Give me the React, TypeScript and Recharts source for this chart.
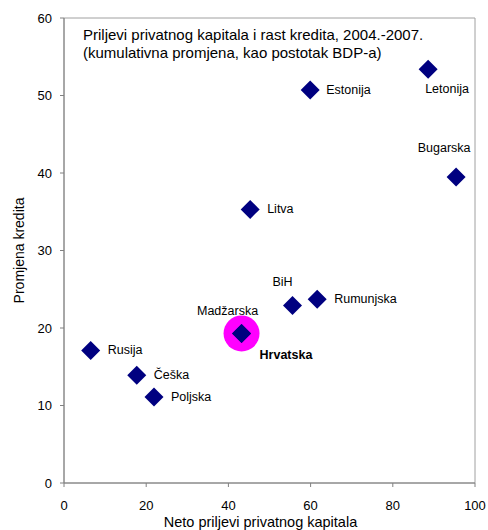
import React from 'react';
import { ScatterChart, Scatter, XAxis, YAxis, ReferenceArea } from 'recharts';

const countries = ['Estonija', 'Letonija', 'Bugarska', 'Litva', 'BiH', 'Rumunjska', 'Madžarska', 'Hrvatska', 'Rusija', 'Češka', 'Poljska'];
const capitalInflow = [59.9, 88.6, 95.4, 45.3, 55.6, 61.6, 43.2, 43.2, 6.5, 17.7, 21.9];
const creditChange = [50.7, 53.4, 39.5, 35.3, 22.9, 23.7, 19.3, 19.3, 17.1, 13.9, 11.1];
const highlighted = ['Hrvatska'];
const xTicks = [0, 20, 40, 60, 80, 100];
const yTicks = [0, 10, 20, 30, 40, 50, 60];

const FONT = '"Liberation Sans", Arial, sans-serif';
const NAVY = '#000080';

// where each country's label sits relative to its marker
const labelPlacement: Record<string, { dx: number; dy: number; anchor: 'start' | 'middle'; bold?: boolean }> = {
  Estonija: { dx: 16, dy: 0, anchor: 'start' },
  Letonija: { dx: -3, dy: 20, anchor: 'start' },
  Bugarska: { dx: -12, dy: -29, anchor: 'middle' },
  Litva: { dx: 17, dy: 0, anchor: 'start' },
  BiH: { dx: -10, dy: -24, anchor: 'middle' },
  Rumunjska: { dx: 17, dy: 0, anchor: 'start' },
  Madžarska: { dx: -14, dy: -22, anchor: 'middle' },
  Hrvatska: { dx: 18, dy: 22, anchor: 'start', bold: true },
  Rusija: { dx: 17, dy: 0, anchor: 'start' },
  Češka: { dx: 17, dy: 0, anchor: 'start' },
  Poljska: { dx: 17, dy: 0, anchor: 'start' },
};

const points = countries.map((name, i) => ({ name, x: capitalInflow[i], y: creditChange[i] }));
const highlightPoints = points.filter(p => highlighted.includes(p.name));

const Diamond = (props: any) => {
  const { cx, cy, payload } = props;
  if (cx == null || cy == null) return null;
  const s = 9.5;
  const lp = labelPlacement[payload.name] || { dx: 16, dy: 0, anchor: 'start' };
  return (
    <g>
      <polygon points={`${cx},${cy - s} ${cx + s},${cy} ${cx},${cy + s} ${cx - s},${cy}`} fill={NAVY} />
      <text
        x={cx + lp.dx}
        y={cy + lp.dy}
        textAnchor={lp.anchor}
        dominantBaseline="central"
        fontFamily={FONT}
        fontSize={12.5}
        fontWeight={lp.bold ? 'bold' : 'normal'}
        fill="#000"
      >
        {payload.name}
      </text>
    </g>
  );
};

const Halo = (props: any) => {
  const { cx, cy } = props;
  if (cx == null || cy == null) return null;
  return <circle cx={cx} cy={cy} r={18} fill="#ff00ff" />;
};

const App: React.FC = () => {
  return (
    <div style={{ position: 'absolute', left: 0, top: 0, width: 488, height: 530, background: '#fff' }}>
      <ScatterChart width={488} height={530} margin={{ top: 18, right: 13, bottom: 0, left: 0 }}>
        <XAxis
          type="number"
          dataKey="x"
          domain={[0, 100]}
          ticks={xTicks}
          allowDataOverflow
          height={47}
          stroke="#808080"
          tickSize={4}
          tickMargin={14}
          tick={{ fill: '#000', fontSize: 13, fontFamily: FONT }}
          label={{ value: 'Neto priljevi privatnog kapitala', position: 'insideBottom', offset: 3, dx: -9, style: { fontSize: 14.5, fontFamily: FONT, fill: '#000' } }}
        />
        <YAxis
          type="number"
          dataKey="y"
          domain={[0, 60]}
          ticks={yTicks}
          allowDataOverflow
          width={64}
          stroke="#808080"
          tickSize={4}
          tickMargin={8}
          tick={{ fill: '#000', fontSize: 13, fontFamily: FONT }}
          label={{ value: 'Promjena kredita', angle: -90, position: 'insideLeft', offset: 19, style: { fontSize: 14, fontFamily: FONT, fill: '#000', textAnchor: 'middle' } }}
        />
        <ReferenceArea x1={0} x2={100} y1={0} y2={60} fill="none" stroke="#a0a0a0" strokeWidth={1} />
        <Scatter data={highlightPoints} shape={Halo} isAnimationActive={false} />
        <Scatter data={points} shape={Diamond} isAnimationActive={false} />
      </ScatterChart>
      <div
        style={{
          position: 'absolute',
          left: 83,
          top: 26,
          fontFamily: FONT,
          fontSize: 15,
          lineHeight: '18px',
          color: '#000',
          whiteSpace: 'nowrap',
        }}
      >
        Priljevi privatnog kapitala i rast kredita, 2004.-2007.
        <br />
        (kumulativna promjena, kao postotak BDP-a)
      </div>
    </div>
  );
};

export default App;
